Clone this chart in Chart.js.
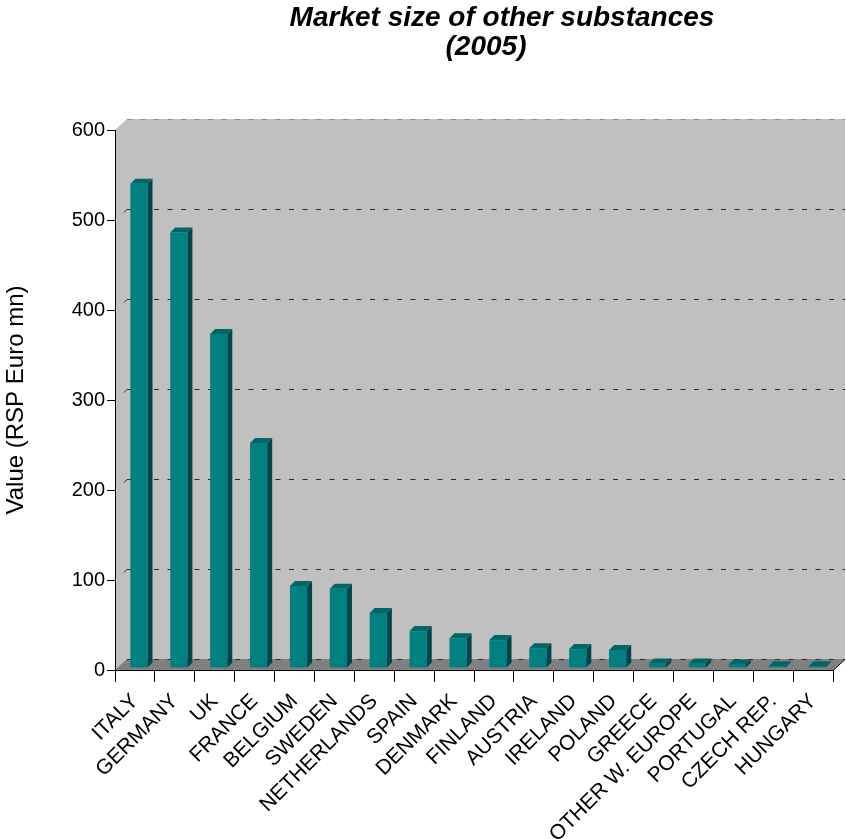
<!DOCTYPE html>
<html>
<head>
<meta charset="utf-8">
<title>Market size of other substances (2005)</title>
<script src="https://cdn.jsdelivr.net/npm/chart.js@4.4.0/dist/chart.umd.min.js"></script>
<style>
  html, body { margin: 0; padding: 0; background: #fff; }
  #wrap { width: 846px; height: 839px; }
</style>
</head>
<body>
<div id="wrap"><canvas id="chart" width="846" height="839"></canvas></div>
<script>
// market values, RSP Euro mn
const countries = [
  "ITALY", "GERMANY", "UK", "FRANCE", "BELGIUM", "SWEDEN", "NETHERLANDS",
  "SPAIN", "DENMARK", "FINLAND", "AUSTRIA", "IRELAND", "POLAND", "GREECE",
  "OTHER W. EUROPE", "PORTUGAL", "CZECH REP.", "HUNGARY"
];
const values = [538, 484, 371, 250, 91, 88, 61, 41, 33, 31, 22, 21, 20, 5, 5, 4, 2, 2];
const yTicks = [0, 100, 200, 300, 400, 500, 600];
const titleLines = ["Market size of other substances", "(2005)"];
const yTitle = "Value (RSP Euro mn)";

const FONT = '"Liberation Sans", Arial, sans-serif';

// fake 3d: back wall sits up/right of the axes, bars sit a bit inside the box
const WALL_DX = 12, WALL_DY = 11;
const BAR_DX = 4, BAR_DY = 2;
const BAR_DEPTH = 5;

const box3d = {
  id: "box3d",
  beforeDraw(chart) {
    const { ctx, chartArea: a } = chart;
    const yScale = chart.scales.y;
    ctx.save();

    // wall
    ctx.fillStyle = "#C0C0C0";
    ctx.beginPath();
    ctx.moveTo(a.left, a.bottom);
    ctx.lineTo(a.left, a.top);
    ctx.lineTo(a.left + WALL_DX, a.top - WALL_DY);
    ctx.lineTo(a.right + WALL_DX, a.top - WALL_DY);
    ctx.lineTo(a.right + WALL_DX, a.bottom - WALL_DY);
    ctx.lineTo(a.right, a.bottom);
    ctx.closePath();
    ctx.fill();

    // floor
    ctx.fillStyle = "#808080";
    ctx.beginPath();
    ctx.moveTo(a.left, a.bottom);
    ctx.lineTo(a.left + WALL_DX, a.bottom - WALL_DY);
    ctx.lineTo(a.right + WALL_DX, a.bottom - WALL_DY);
    ctx.lineTo(a.right, a.bottom);
    ctx.closePath();
    ctx.fill();

    // dashed gridlines on the back wall
    ctx.lineWidth = 1;
    yTicks.forEach(v => {
      const y = Math.round(yScale.getPixelForValue(v)) - WALL_DY + 0.5;
      ctx.strokeStyle = v === 600 ? "#8a8a8a" : "#2a2a2a";
      ctx.setLineDash([5, 8.5]);
      ctx.beginPath();
      ctx.moveTo(a.left + WALL_DX, y);
      ctx.lineTo(a.right + WALL_DX, y);
      ctx.stroke();
      if (v > 0 && v < 600) {
        // short piece of the side-wall line
        ctx.setLineDash([]);
        ctx.beginPath();
        ctx.moveTo(a.left + WALL_DX, y);
        ctx.lineTo(a.left + WALL_DX - 3, y + 3);
        ctx.stroke();
      }
    });

    // right end of the floor edge
    ctx.setLineDash([]);
    ctx.strokeStyle = "#000";
    ctx.beginPath();
    ctx.moveTo(a.right, a.bottom + 0.5);
    ctx.lineTo(a.right + WALL_DX, a.bottom - WALL_DY + 0.5);
    ctx.stroke();
    ctx.restore();
  },
  beforeDatasetsDraw(chart) {
    chart.ctx.save();
    chart.ctx.translate(BAR_DX, -BAR_DY);
  },
  afterDatasetsDraw(chart) {
    const ctx = chart.ctx;
    const meta = chart.getDatasetMeta(0);
    meta.data.forEach(bar => {
      const { x, y, base, width } = bar.getProps(["x", "y", "base", "width"], true);
      const l = x - width / 2, r = x + width / 2;
      // side face
      ctx.fillStyle = "#004646";
      ctx.beginPath();
      ctx.moveTo(r, y);
      ctx.lineTo(r + BAR_DEPTH, y - BAR_DEPTH);
      ctx.lineTo(r + BAR_DEPTH, base - BAR_DEPTH);
      ctx.lineTo(r, base);
      ctx.closePath();
      ctx.fill();
      // top face
      ctx.fillStyle = "#006666";
      ctx.beginPath();
      ctx.moveTo(l, y);
      ctx.lineTo(l + BAR_DEPTH, y - BAR_DEPTH);
      ctx.lineTo(r + BAR_DEPTH, y - BAR_DEPTH);
      ctx.lineTo(r, y);
      ctx.closePath();
      ctx.fill();
    });
    ctx.restore();
  },
  afterDraw(chart) {
    const ctx = chart.ctx;
    ctx.save();
    ctx.fillStyle = "#000";
    ctx.font = "italic bold 28px " + FONT;
    ctx.textAlign = "center";
    ctx.textBaseline = "alphabetic";
    ctx.fillText(titleLines[0], 502, 26);
    ctx.fillText(titleLines[1], 486, 55);
    ctx.restore();
  }
};

new Chart(document.getElementById("chart"), {
  type: "bar",
  data: {
    labels: countries,
    datasets: [{
      data: values,
      backgroundColor: "#008080",
      borderWidth: 0,
      barPercentage: 0.43,
      categoryPercentage: 1
    }]
  },
  options: {
    responsive: false,
    animation: false,
    devicePixelRatio: 1,
    layout: { padding: { top: 130, right: 13, left: 0, bottom: 0 } },
    plugins: {
      legend: { display: false },
      tooltip: { enabled: false },
      title: { display: false }
    },
    scales: {
      x: {
        grid: { drawOnChartArea: false, drawTicks: true, tickLength: 12, color: "#000", offset: true },
        border: { color: "#000", width: 1 },
        ticks: {
          font: { family: FONT, size: 21 },
          color: "#000",
          minRotation: 45,
          maxRotation: 45,
          autoSkip: false,
          padding: 7
        },
        afterFit: s => { s.height = 169; }
      },
      y: {
        min: 0,
        max: 600,
        grid: { drawOnChartArea: false, drawTicks: true, tickLength: 8, color: "#000" },
        border: { color: "#000", width: 1 },
        ticks: {
          stepSize: 100,
          font: { family: FONT, size: 20 },
          color: "#000",
          padding: 2
        },
        title: {
          display: true,
          text: yTitle,
          font: { family: FONT, size: 24 },
          color: "#000",
          padding: { top: 2, bottom: 0 }
        },
        afterFit: s => { s.width = 115; }
      }
    }
  },
  plugins: [box3d]
});
</script>
</body>
</html>
